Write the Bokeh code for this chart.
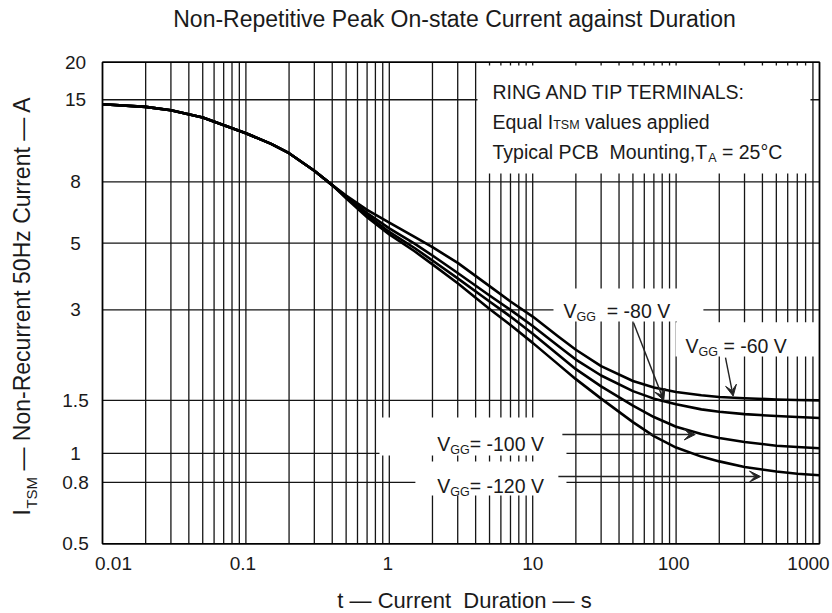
import math
from bokeh.plotting import figure
from bokeh.models import Label, Arrow, VeeHead, Range1d
from bokeh.embed import file_html
from bokeh.resources import INLINE

# ---------------- data ----------------
t_common = [0.01, 0.02, 0.03, 0.05, 0.1, 0.15, 0.2, 0.3, 0.4]
i_common = [14.5, 14.2, 13.85, 13.1, 11.6, 10.7, 9.96, 8.71, 7.8]

t_split = [0.5, 0.7, 1, 1.5, 2, 3, 5, 7, 10, 15, 20, 30, 50, 70, 100, 150, 200, 300, 500, 700, 1000]
i_vgg_60 = [7.2, 6.45, 5.85, 5.25, 4.85, 4.3, 3.6, 3.2, 2.85, 2.45, 2.21, 1.95, 1.74, 1.655, 1.60, 1.56, 1.54, 1.525, 1.51, 1.505, 1.50]
i_vgg_80 = [7.15, 6.3, 5.6, 4.98, 4.55, 3.98, 3.35, 3.0, 2.65, 2.28, 2.05, 1.815, 1.61, 1.52, 1.455, 1.40, 1.375, 1.35, 1.33, 1.32, 1.31]
i_vgg_100 = [7.1, 6.2, 5.45, 4.82, 4.38, 3.82, 3.2, 2.85, 2.5, 2.13, 1.905, 1.67, 1.44, 1.32, 1.225, 1.16, 1.125, 1.09, 1.06, 1.05, 1.04]
i_vgg_120 = [7.05, 6.1, 5.35, 4.7, 4.25, 3.68, 3.02, 2.67, 2.33, 1.98, 1.765, 1.52, 1.27, 1.14, 1.045, 0.975, 0.94, 0.90, 0.87, 0.855, 0.845]

x_ticks = [0.01, 0.1, 1, 10, 100, 1000]
x_tick_labels = ["0.01", "0.1", "1", "10", "100", "1000"]
y_ticks = [0.5, 0.8, 1, 1.5, 3, 5, 8, 15, 20]
y_tick_labels = ["0.5", "0.8", "1", "1.5", "3", "5", "8", "15", "20"]

title_text = "Non-Repetitive Peak On-state Current against Duration"
x_label_text = "t \u2014 Current\u00a0 Duration \u2014 s"
y_label_parts = ["I", "TSM", "\u00a0\u2014 Non-Recurrent 50Hz Current \u2014 A"]

# ---------------- styling ----------------
FONT = "Liberation Sans"
TXT = "#1a1a1a"
NB = "\u00a0"
x_label_offsets = [11, -3, -1.5, 0, -2.5, -11]

# Arial / Liberation Sans advance widths (em)
W = {' ': .278, NB: .278, '-': .333, '=': .584, ',': .278, '.': .278, ':': .278, '\u00b0': .4, '\u2014': 1.0,
     'A': .667, 'B': .667, 'C': .722, 'D': .722, 'E': .667, 'F': .611, 'G': .778, 'H': .722, 'I': .278,
     'K': .667, 'L': .556, 'M': .833, 'N': .722, 'O': .778, 'P': .667, 'R': .722, 'S': .667, 'T': .611,
     'V': .667, 'a': .556, 'b': .556, 'c': .5, 'd': .556, 'e': .556, 'g': .556, 'i': .222, 'l': .222,
     'n': .556, 'o': .556, 'p': .556, 'q': .556, 'r': .333, 's': .5, 't': .278, 'u': .556, 'v': .5,
     'y': .5, 'z': .5, 'f': .278, 'h': .556, 'k': .5, 'm': .833}


def tw(s, size):
    return sum(W.get(c, 0.556) for c in s) * size


# plot box spans t 0.01..1000 and I 0.5..20; the canvas extends beyond it so that
# tick labels, title and axis titles can be drawn as annotations
X_LO, X_HI = 10 ** (-2 - 102 / 143.4), 10 ** (3 + 13 / 143.4)
Y_LO, Y_HI = 10 ** (math.log10(0.5) - 69.7 / 300.62), 10 ** (math.log10(20) + 61.7 / 300.62)

p = figure(width=832, height=613, x_axis_type="log", y_axis_type="log",
           x_range=Range1d(X_LO, X_HI), y_range=Range1d(Y_LO, Y_HI),
           output_backend="svg", toolbar_location=None,
           min_border=0)
p.title.visible = False
p.background_fill_color = "white"
p.border_fill_color = "white"
p.outline_line_color = None
p.xaxis.visible = False
p.yaxis.visible = False
p.xgrid.visible = False
p.ygrid.visible = False

# grid lines inside the plot box
x_grid = [k * 10 ** d for d in range(-2, 3) for k in range(1, 10)] + [1000]
p.segment(x0=x_grid, x1=x_grid, y0=[0.5] * len(x_grid), y1=[20] * len(x_grid),
          line_color="#151515", line_width=1.3)
p.segment(x0=[0.01] * len(y_ticks), x1=[1000] * len(y_ticks), y0=y_ticks, y1=y_ticks,
          line_color="#151515", line_width=1.3)

# white boxes behind the annotation texts (data coords)
box_l = [4.12, 13.96, 99, 0.854, 1.52]
box_r = [865, 155, 938, 17.2, 17.2]
box_t = [19.5, 3.535, 2.73, 1.316, 0.939]
box_b = [8.53, 2.745, 2.10, 0.983, 0.724]
p.quad(left=box_l, right=box_r, top=box_t, bottom=box_b, fill_color="white", line_color=None)

# plot box border
p.quad(left=[0.01], right=[1000], bottom=[0.5], top=[20], fill_color=None,
       line_color="black", line_width=1.6)

# curves
for ser in (i_vgg_60, i_vgg_80, i_vgg_100, i_vgg_120):
    p.line(t_common + t_split, i_common + ser, line_color="black", line_width=2.6, line_join="round")

# arrows
arrows = [((50.5, 2.72), (82, 1.50)), ((221, 2.08), (250, 1.55)),
          ((16.1, 1.155), (136, 1.155)), ((15.1, 0.837), (388, 0.837))]
for (x0, y0), (x1, y1) in arrows:
    p.add_layout(Arrow(x_start=x0, y_start=y0, x_end=x1, y_end=y1, line_color="#222", line_width=1.4,
                       end=VeeHead(size=11, fill_color="#222", line_color="#222", line_width=1)))


def label(x, y, text, size, align="left", baseline="alphabetic", xu="data", yu="data", xo=0, yo=0, angle=0):
    p.add_layout(Label(x=x, y=y, x_units=xu, y_units=yu, text=text, text_font=FONT,
                       text_font_size=f"{size}px", text_color=TXT, text_align=align,
                       text_baseline=baseline, x_offset=xo, y_offset=yo, angle=angle))


def rich(x, y, parts):
    off = 0
    for text, size, dy in parts:
        label(x, y, text, size, xo=off, yo=dy)
        off += tw(text, size)


# legend text block
rich(5.245, 15.86, [("RING AND TIP TERMINALS:", 19.5, 0)])
rich(5.245, 12.63, [("Equal I", 19.5, 0), ("TSM", 12.5, -3), (NB + "values applied", 19.5, 0)])
rich(5.245, 10.02, [("Typical PCB" + NB + NB + "Mounting,T", 19.5, 0), ("A", 12.5, -6), (NB + "= 25\u00b0C", 19.5, 0)])

# V_GG labels
rich(16.4, 2.985, [("V", 19.5, 0), ("GG", 12.5, -6), (NB + NB + "= -80 V", 19.5, 0)])
rich(116.3, 2.28, [("V", 19.5, 0), ("GG", 12.5, -6), (NB + "= -60 V", 19.5, 0)])
rich(2.158, 1.075, [("V", 19.5, 0), ("GG", 12.5, -6), ("= -100 V", 19.5, 0)])
rich(2.158, 0.78, [("V", 19.5, 0), ("GG", 12.5, -6), ("= -120 V", 19.5, 0)])

# tick labels
for xv, txt, xo in zip(x_ticks, x_tick_labels, x_label_offsets):
    label(xv, 50, txt, 19, align="center", baseline="middle", yu="screen", xo=xo)
for yv, txt in zip(y_ticks, y_tick_labels):
    label(75, yv, txt, 19, align="center", baseline="middle", xu="screen")

# title and axis titles
label(454, 595, title_text, 23, align="center", baseline="middle", xu="screen", yu="screen")
label(464, 13, x_label_text, 22, align="center", baseline="middle", xu="screen", yu="screen")
yy = 98.0
label(21, yy, y_label_parts[0], 23, baseline="middle", xu="screen", yu="screen", angle=math.pi / 2)
yy += tw(y_label_parts[0], 23) + 0.5
label(31, yy, y_label_parts[1], 15, baseline="middle", xu="screen", yu="screen", angle=math.pi / 2)
yy += tw(y_label_parts[1], 15)
label(21, yy, y_label_parts[2], 23, baseline="middle", xu="screen", yu="screen", angle=math.pi / 2)

open("out.html", "w").write(file_html(p, INLINE))
